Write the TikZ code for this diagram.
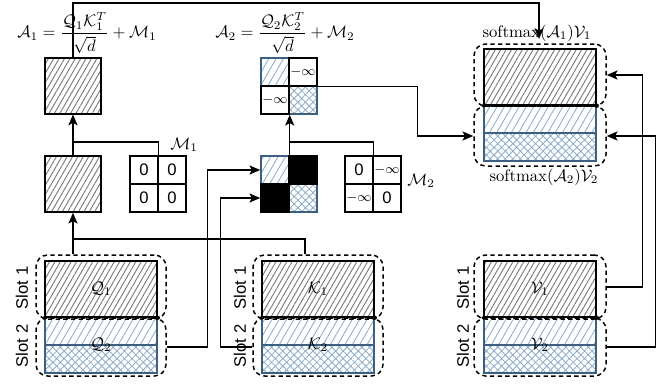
\documentclass[tikz,border=0pt]{standalone}
\usepackage{fontspec}
\setsansfont{Liberation Sans}
\usepackage{amsmath}
\usetikzlibrary{patterns.meta,arrows.meta}
\definecolor{lb}{RGB}{140,172,200}
\definecolor{bb}{RGB}{60,95,130}
\definecolor{hg}{RGB}{120,120,120}
\tikzset{
  wh/.style 2 args={minimum width=#1*0.6pt, minimum height=#2*0.6pt},
  grayhatch/.style={pattern={Lines[angle=60,distance=2.8pt,line width=0.55pt]}, pattern color=hg},
  bluehatch/.style={pattern={Lines[angle=60,distance=3.8pt,line width=0.5pt]}, pattern color=lb},
  bluecross/.style={pattern={Hatch[angle=45,distance=3.2pt,line width=0.5pt]}, pattern color=lb},
  slotone/.style={draw=black, line width=0.9pt, inner sep=0, wh={112}{56}, grayhatch},
  slottwo/.style={draw=bb, line width=0.9pt, inner sep=0, wh={112}{56}, path picture={
     \fill[bluehatch] (path picture bounding box.north west) rectangle (path picture bounding box.east);
     \fill[bluecross] (path picture bounding box.west) rectangle (path picture bounding box.south east);
     \draw[bb, line width=0.9pt] (path picture bounding box.west) -- (path picture bounding box.east);}},
  sqbox/.style={draw=black, line width=0.9pt, inner sep=0, wh={56}{56}, grayhatch},
  cell/.style={draw=black, line width=0.9pt, inner sep=0, wh={28}{28}, font=\sffamily},
  dbox/.style={draw=black, dash pattern=on 2.6pt off 2pt, line width=0.9pt, rounded corners=7pt, inner sep=0},
  slotlbl/.style={rotate=90, font=\sffamily},
  conn/.style={draw=black, line width=0.8pt},
  ar/.style={-{Stealth[length=6.5pt,width=5.5pt,inset=1.5pt]}},
  tickdot/.style={fill=black}
}
\begin{document}
\begin{tikzpicture}[x=0.6pt,y=-0.6pt]
\useasboundingbox (0,0) rectangle (672,385);

% formulas
\node (F1) at (87,33) {$\mathcal{A}_1=\dfrac{\mathcal{Q}_1\mathcal{K}_1^T}{\sqrt{d}}+\mathcal{M}_1$};
\node (F2) at (285,33) {$\mathcal{A}_2=\dfrac{\mathcal{Q}_2\mathcal{K}_2^T}{\sqrt{d}}+\mathcal{M}_2$};

% A1 and S1
\node[sqbox] (A1) at (73,86) {};
\node[sqbox] (S1) at (73,184) {};

% M1
\node[cell] (M1a) at (144,170) {0};
\node[cell] (M1b) at (172,170) {0};
\node[cell] (M1c) at (144,198) {0};
\node[cell] (M1d) at (172,198) {0};
\node (M1l) at (184,145) {$\mathcal{M}_1$};

% A2
\node[cell, draw=bb, bluehatch] (A2a) at (275,72) {};
\node[cell, draw=bb, bluecross] (A2d) at (303,100) {};
\node[cell, font=\footnotesize] (A2b) at (303,72) {$-\infty$};
\node[cell, font=\footnotesize] (A2c) at (275,100) {$-\infty$};

% S2 (masked scores)
\node[cell, draw=bb, bluehatch] (S2a) at (275,170) {};
\node[cell, draw=bb, bluecross] (S2d) at (303,198) {};
\node[cell, fill=black] (S2b) at (303,170) {};
\node[cell, fill=black] (S2c) at (275,198) {};

% M2
\node[cell] (M2a) at (359,170) {0};
\node[cell, font=\footnotesize] (M2b) at (387,170) {$-\infty$};
\node[cell, font=\footnotesize] (M2c) at (359,198) {$-\infty$};
\node[cell] (M2d) at (387,198) {0};
\node (M2l) at (421,181) {$\mathcal{M}_2$};

% Q
\node[slottwo] (Q2) at (101,345) {$\mathcal{Q}_2$};
\node[slotone] (Q1) at (101,289) {$\mathcal{Q}_1$};
\node[dbox, wh={130}{64}] (Qd1) at (101,287) {};
\node[dbox, wh={130}{58}] (Qd2) at (101,347) {};
\node[slotlbl] (Qs1) at (22,288) {Slot 1};
\node[slotlbl] (Qs2) at (22,346) {Slot 2};

% K
\node[slottwo] (K2) at (318,345) {$\mathcal{K}_2$};
\node[slotone] (K1) at (318,289) {$\mathcal{K}_1$};
\node[dbox, wh={130}{64}] (Kd1) at (318,287) {};
\node[dbox, wh={130}{58}] (Kd2) at (318,347) {};
\node[slotlbl] (Ks1) at (240,288) {Slot 1};
\node[slotlbl] (Ks2) at (240,346) {Slot 2};

% V
\node[slottwo] (V2) at (540,345) {$\mathcal{V}_2$};
\node[slotone] (V1) at (540,289) {$\mathcal{V}_1$};
\node[dbox, wh={132}{64}] (Vd1) at (540,287) {};
\node[dbox, wh={132}{58}] (Vd2) at (540,347) {};
\node[slotlbl] (Vs1) at (463,288) {Slot 1};
\node[slotlbl] (Vs2) at (463,346) {Slot 2};

% Output
\node[slottwo] (O2) at (540,133) {};
\node[slotone] (O1) at (540,77) {};
\node[dbox, wh={132}{62}] (Od1) at (540,75) {};
\node[dbox, wh={132}{60}] (Od2) at (540,136) {};
\node (L1) at (537,33) {$\mathrm{softmax}(\mathcal{A}_1)\mathcal{V}_1$};
\node (L2) at (544,177) {$\mathrm{softmax}(\mathcal{A}_2)\mathcal{V}_2$};

% small marks at slot boundaries
\foreach \n in {Q1,K1,V1,O1}{
  \fill[tickdot] (\n.south east) circle (1.3pt);
  \fill[tickdot] (\n.south west) circle (1.1pt);
}

% connectors
\coordinate (jq) at (73,239);
\coordinate (jk) at (305,239);
\draw[conn] (Kd1.north -| jk) -- (jk) -- (jq);
\draw[conn,ar] (Qd1.north -| jq) -- (S1.south);

\coordinate (j1) at (73,142);
\draw[conn,ar] (S1.north) -- (A1.south);
\draw[conn] (j1) -| (M1a.north east);

\coordinate (j2) at (289,142);
\draw[conn,ar] (S2a.north east) -- (A2c.south east);
\draw[conn] (j2) -| (M2a.north east);

\coordinate (ttop) at (539,3);
\coordinate (tin) at (539,39);
\draw[conn,ar] (A1.north) |- (ttop) -- (tin);

\draw[conn,ar] (A2b.south east) -- ++(100,0) |- (Od2.west);

\draw[conn,ar] (Qd2.east) -- ++(41,0) |- (S2a.west);
\draw[conn,ar] (Kd2.west) -- ++(-32,0) |- (S2c.west);

\draw[conn,ar] (Vd1.east) -- ++(36,0) |- (Od1.east);
\draw[conn,ar] (Vd2.east) -- ++(49,0) |- (Od2.east);
\end{tikzpicture}
\end{document}
